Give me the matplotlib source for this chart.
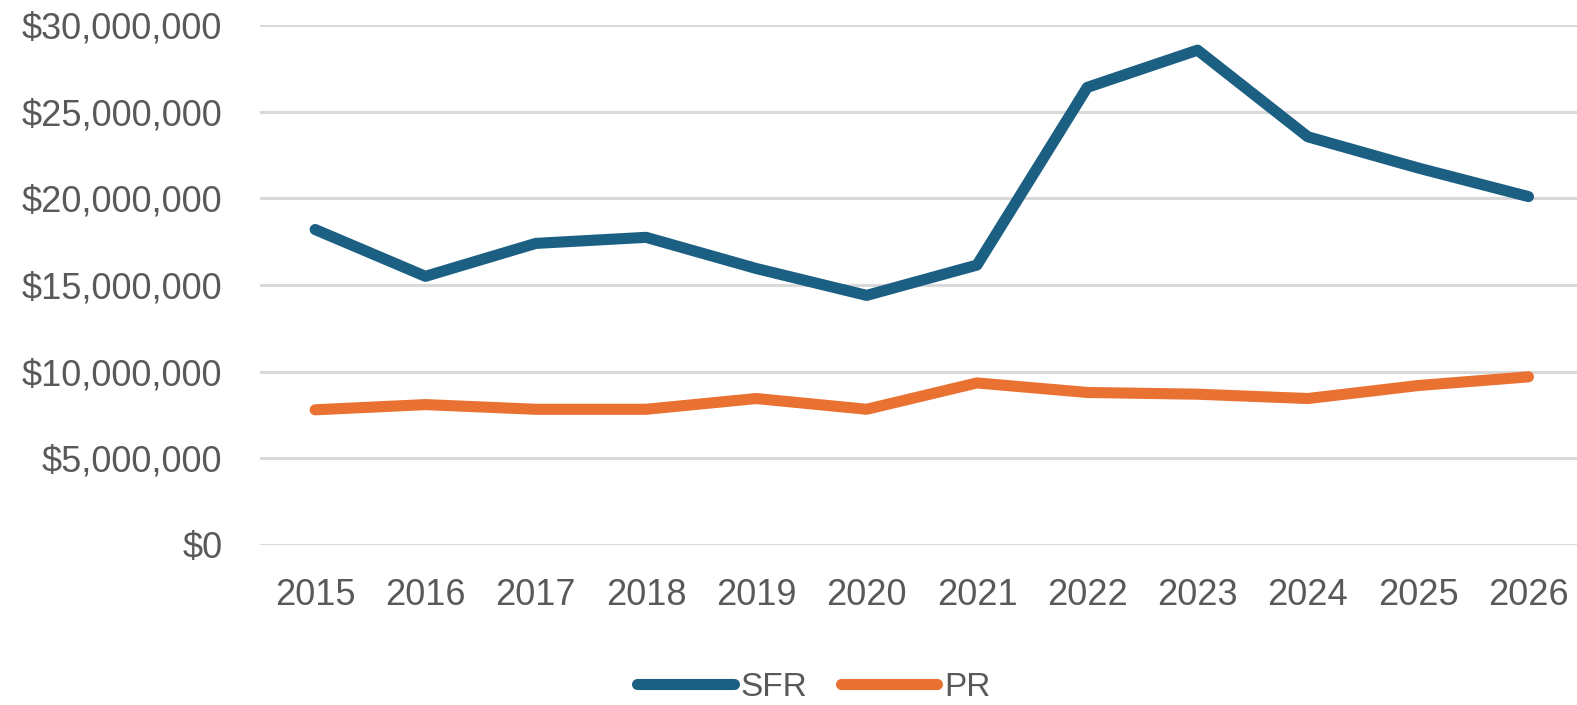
import matplotlib
matplotlib.use("Agg")
import matplotlib.pyplot as plt
from matplotlib.ticker import FuncFormatter

# Data
years = ['2015', '2016', '2017', '2018', '2019', '2020',
         '2021', '2022', '2023', '2024', '2025', '2026']
sfr = [18.2e6, 15.5e6, 17.4e6, 17.75e6, 15.95e6, 14.4e6,
       16.15e6, 26.4e6, 28.55e6, 23.55e6, 21.75e6, 20.1e6]
pr = [7.8e6, 8.1e6, 7.83e6, 7.83e6, 8.45e6, 7.83e6,
      9.35e6, 8.8e6, 8.7e6, 8.45e6, 9.2e6, 9.7e6]

plt.rcParams['font.family'] = ['Liberation Sans', 'DejaVu Sans']
text_color = '#595959'

fig = plt.figure(figsize=(15.77, 7.05), dpi=100)
ax = fig.add_axes([260 / 1577, 1 - 545 / 705, 1317 / 1577, 520 / 705])

x = range(len(years))
ax.plot(x, sfr, color='#1b5f82', linewidth=8, solid_capstyle='round',
        solid_joinstyle='round', label='SFR', clip_on=False, zorder=3)
ax.plot(x, pr, color='#e97132', linewidth=8, solid_capstyle='round',
        solid_joinstyle='round', label='PR', clip_on=False, zorder=3)

ax.set_xlim(-0.5, 1317 / 110.3 - 0.5)
ax.set_ylim(0, 30e6)
ax.set_yticks([i * 5e6 for i in range(7)])
ax.yaxis.set_major_formatter(FuncFormatter(lambda v, p: f'${v:,.0f}'))
ax.set_xticks(list(x))
ax.set_xticklabels(years)

ax.grid(axis='y', color='#d9d9d9', linewidth=2.2)
ax.set_axisbelow(True)
for s in ax.spines.values():
    s.set_visible(False)
ax.tick_params(axis='both', length=0, labelsize=26, colors=text_color)
ax.tick_params(axis='y', pad=27)
ax.tick_params(axis='x', pad=24)

fig.legend(loc='center', bbox_to_anchor=(0.516, 1 - 687 / 705), ncol=2,
           frameon=False, fontsize=24, labelcolor=text_color,
           handlelength=2.9, handletextpad=0.2, columnspacing=1.0)

fig.savefig('out.png', dpi=100)
